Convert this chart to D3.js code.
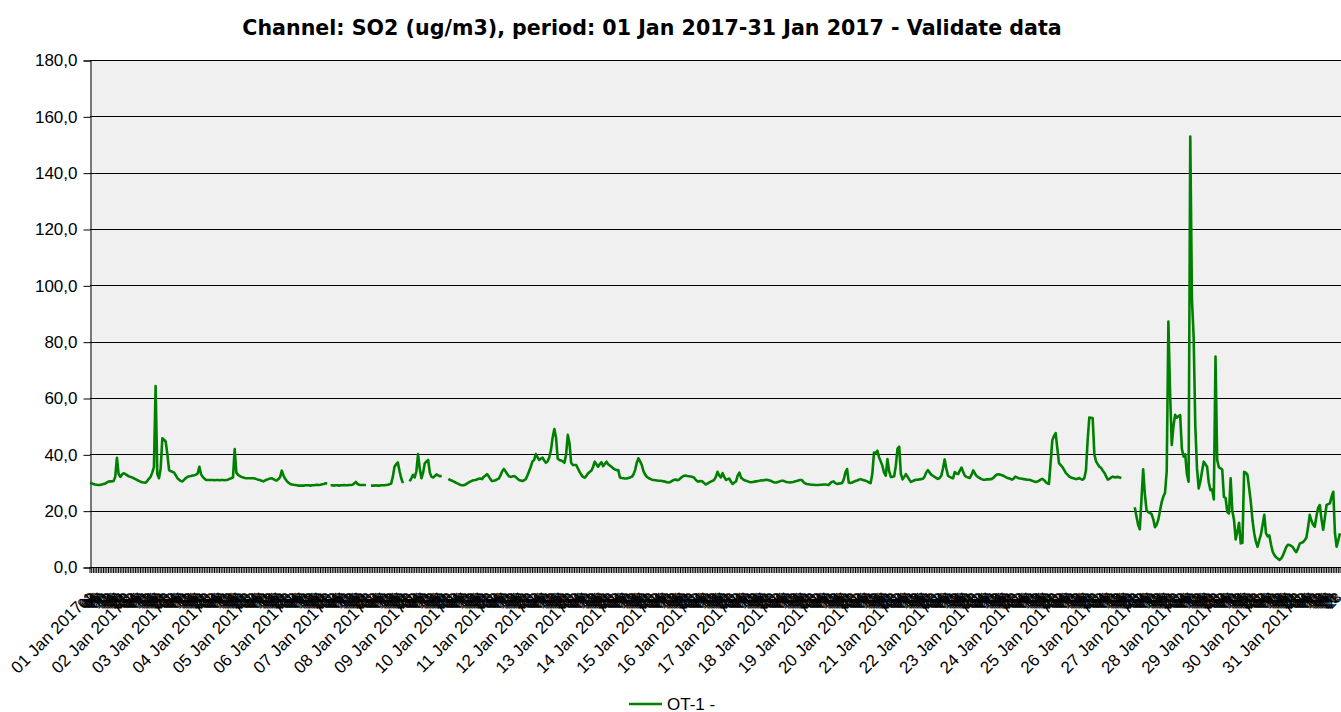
<!DOCTYPE html>
<html>
<head>
<meta charset="utf-8">
<script src="https://cdn.jsdelivr.net/npm/d3@7"></script>
<style>
  body { margin: 0; background: #fff; }
  svg { display: block; }
</style>
</head>
<body>
<svg id="CHART"></svg>
<script>
// hourly SO2 values, one row per day (00..23), null = missing
const so2 = [
  [29.9,29.7,29.5,29.3,29.2,29.1,29.1,29.3,29.5,29.6,30,30.3,30.4,30.4,30.5,32,38.8,33,32,32.8,33.3,33,32.6,32.2],
  [32,31.8,31.5,31.2,30.9,30.6,30.3,30.1,30,29.9,30.5,31.3,32,33.5,35.5,64.2,33,31.5,35,45.7,45.2,44.5,40,34.4],
  [34,33.8,33.5,32.5,31.5,31,30.5,30.4,31,31.6,32,32.2,32.3,32.5,32.6,32.8,33.2,35.6,33,32,31.4,30.9,30.9,30.9],
  [30.9,30.9,30.8,30.9,30.9,30.8,30.9,30.9,30.8,30.9,31,31.3,31.5,31.8,41.9,33.5,32.7,32.3,32,31.8,31.6,31.5,31.5,31.5],
  [31.5,31.5,31.4,31.2,31,30.9,30.6,30.4,30.7,31,31.2,31.4,31.5,31.2,30.9,30.7,31.2,31.9,34.2,32.5,31.3,30.5,29.9,29.5],
  [29.3,29.2,29.1,29,28.9,28.9,28.9,28.9,29,29,29,28.9,29,29,29.1,29.2,29.1,29.2,29.4,29.5,29.7,29.7,null,29],
  [29,28.9,29,29,28.9,29,29,29.1,29,29,29.1,29.1,29.2,29.6,30.2,29.5,29.2,29.1,29.1,29.1,29.1,null,null,28.9],
  [28.9,28.9,29,28.9,28.9,29,29,29,29.1,29.2,29.4,29.6,32,35.6,36.5,37.1,34,31.5,29.8,null,null,null,30.4,31.5],
  [32.7,31.8,34,40.1,35,31.5,33.5,36.8,37.5,38,33.5,32,31.8,32.3,32.9,32.5,32.2,32.4,null,null,null,31.3,30.9,30.7],
  [30.4,30.1,29.8,29.5,29.2,29,29,29.2,29.6,30,30.3,30.6,30.8,30.9,31.1,31.3,31.4,31.2,32,32.4,33,32.2,31.2,30.5],
  [30.6,30.8,31.1,31.4,32.5,34,34.8,34,33,32.2,32,32.1,32.3,32,31.4,30.9,30.7,30.5,30.8,31.2,32.5,34,35.6,37.5],
  [38,40.1,39,38,38.5,38.8,37.8,37,37.5,39,41.5,46,49,46,38.5,38,37.8,37.5,37,40,46.9,44,37,36.2],
  [36.2,36.2,35,33.8,32.8,32,31.7,32.3,33.2,33.8,34.2,35.5,37.4,36.5,35.6,36.5,37.2,35.8,36.6,37.4,36.5,36,35.6,35],
  [34.6,34.4,34.4,31.8,31.6,31.5,31.4,31.4,31.6,31.8,32,32.8,34.4,37,38.6,37.5,36.2,34,32.8,32,31.6,31.3,31,30.9],
  [30.8,30.7,30.6,30.6,30.5,30.4,30.3,30.1,30,30.2,30.6,30.9,31.1,30.8,31,31.5,32,32.4,32.5,32.3,32.2,32.1,32,31.8],
  [31,30.4,30.4,30.5,30.4,29.8,29.3,29.6,30,30.3,30.6,30.9,32,33.8,32.5,31.8,33.3,32,30.9,31.2,31.4,30.2,29.5,30],
  [30.4,32.5,33.5,31.7,31.2,30.8,30.6,30.4,30.2,30.1,30.2,30.3,30.4,30.5,30.6,30.8,30.7,30.9,31,30.9,30.7,30.5,30.2,30],
  [30,30.2,30.4,30.6,30.6,30.4,30.2,30.1,30,30.1,30.2,30.4,30.5,30.7,30.9,30.9,30.2,29.7,29.5,29.4,29.3,29.2,29.2,29.1],
  [29.1,29.1,29.2,29.2,29.3,29.3,29.2,29.1,29.8,30.2,30.4,29.8,29.5,29.6,29.7,29.8,31,33.5,34.8,30,29.8,30,30.3,30.5],
  [30.7,31,31.2,31,30.8,30.6,30.4,30,29.8,33,40.6,40.5,41.3,39,37.5,35.9,33.5,32.4,38.3,34,32,32,32.2,36],
  [42,42.7,33,31.1,32,33,32,31,30.2,30.5,30.8,31,31,31.1,31.2,31.3,32,33.5,34.4,33.6,32.8,32.4,32,31.6],
  [31.3,31.6,32.4,35,38.2,35,32.4,32,31.7,31.5,33.7,33.2,33,34.2,35.3,33.8,32.4,32,31.8,31.6,32.8,34.3,33.2,32.3],
  [31.9,31.5,31.2,31,31,31.1,31.1,31.2,31.2,31.7,32.3,32.8,32.9,32.8,32.6,32.4,32,31.7,31.5,31.3,31,31.4,32.1,31.8],
  [31.5,31.4,31.3,31.2,31.1,31,31,30.9,30.6,30.4,30.2,30.3,30.6,31,31.3,30.9,30.2,29.7,29.5,37,45,46.5,47.5,42],
  [36.8,36.2,35.5,34.5,33.4,32.8,32.2,31.8,31.6,31.4,31.2,31.3,31.6,31.2,31,31.5,34.3,45,53.1,53,52.8,40,37.5,36.5],
  [35.6,35.2,34.2,33.4,32.2,31,31.3,31.8,32.1,31.8,31.9,32,31.8,31.6,null,null,null,null,null,null,null,21.2,18,15],
  [13.4,24,34.7,26,20.2,19.5,19.2,18.8,17,14.1,15,16.8,20,23,25,26.4,34,87.1,62,43.3,50,54,53,53.5],
  [53.9,42,39.2,40,33,30.3,152.8,95,81.8,50,35,27.9,30.4,34,37.4,36.5,35.6,30,27.3,27.5,24,74.7,38,35.4],
  [35,34.6,24.9,24.5,19.5,19,31.5,20,16.7,9.8,12.5,15.7,8.4,8.5,33.8,33.5,32.7,28,23,16.5,12,9,7.2,9.5],
  [11.5,15,18.5,12,10.9,11.2,8,5.4,4.2,3.5,3,2.5,3,4,5.5,7,7.9,7.8,7.5,7,6,5.3,6.5,8.2],
  [8.6,8.8,9.5,10.4,14,18.5,16.5,15,14.3,18,21,22,17,13.2,17.5,22,22.3,22.6,25,26.7,12,7.2,9.5,12]
];

// label shown at midnight of each day
const dayLabels = [
  "01 Jan 2017","02 Jan 2017","03 Jan 2017","04 Jan 2017","05 Jan 2017","06 Jan 2017",
  "07 Jan 2017","08 Jan 2017","09 Jan 2017","10 Jan 2017","11 Jan 2017","12 Jan 2017",
  "13 Jan 2017","14 Jan 2017","15 Jan 2017","16 Jan 2017","17 Jan 2017","18 Jan 2017",
  "19 Jan 2017","20 Jan 2017","21 Jan 2017","22 Jan 2017","23 Jan 2017","24 Jan 2017",
  "25 Jan 2017","26 Jan 2017","27 Jan 2017","28 Jan 2017","29 Jan 2017","30 Jan 2017",
  "31 Jan 2017"
];
const hourLabels = ["","01","02","03","04","05","06","07","08","09","10","11",
  "12","13","14","15","16","17","18","19","20","21","22","23"];
const yTicks = [0, 20, 40, 60, 80, 100, 120, 140, 160, 180];

const title = "Channel: SO2 (ug/m3), period: 01 Jan 2017-31 Jan 2017 - Validate data";
const seriesName = "OT-1 -";

const W = 1341, H = 712;
const plot = { left: 90, right: 1341, top: 60, bottom: 567 };
const lineColor = "#008000";

const points = [];
so2.forEach((row, d) => row.forEach((v, h) => {
  points.push({ i: d * 24 + h, v: v, day: h === 0, label: h === 0 ? dayLabels[d] : hourLabels[h] });
}));

const svg = d3.select("#CHART").attr("width", W).attr("height", H)
  .style("font-family", "'Liberation Sans', Arial, sans-serif");

const x = d3.scaleLinear().domain([0, points.length - 1]).range([plot.left, 1340]);
const y = d3.scaleLinear().domain([0, 180]).range([plot.bottom, plot.top]);

// plot background
svg.append("rect")
  .attr("x", plot.left).attr("y", plot.top)
  .attr("width", plot.right - plot.left + 2).attr("height", plot.bottom - plot.top)
  .attr("fill", "#f0f0f0");

// horizontal grid lines
svg.append("g")
  .selectAll("line")
  .data(yTicks)
  .join("line")
  .attr("x1", plot.left).attr("x2", plot.right + 2)
  .attr("y1", (d) => Math.round(y(d)) + 0.5).attr("y2", (d) => Math.round(y(d)) + 0.5)
  .attr("stroke", "#000").attr("stroke-width", 1);

// y axis
const yAxis = d3.axisLeft(y)
  .tickValues(yTicks)
  .tickSize(7)
  .tickPadding(6)
  .tickFormat((d) => d3.format(".1f")(d).replace(".", ","));
svg.append("g")
  .attr("transform", `translate(${plot.left + 0.5},0.5)`)
  .call(yAxis)
  .call((g) => g.select(".domain").attr("stroke", "#000"))
  .call((g) => g.selectAll("text").style("font-size", "17px").attr("fill", "#000")
    .style("font-family", "'Liberation Sans', Arial, sans-serif"));

// x ticks, one per hour
svg.append("g")
  .selectAll("line")
  .data(points)
  .join("line")
  .attr("x1", (d) => x(d.i)).attr("x2", (d) => x(d.i))
  .attr("y1", plot.bottom).attr("y2", plot.bottom + 6)
  .attr("stroke", "#000").attr("stroke-width", 1);

// x labels, rotated, drawn in order so later ones cover earlier ones
// (day labels sit a bit further down the diagonal than the hour labels)
svg.append("g")
  .selectAll("text")
  .data(points)
  .join("text")
  .attr("transform", (d) => d.day
    ? `translate(${x(d.i) - 10},${plot.bottom + 37}) rotate(-45)`
    : `translate(${x(d.i) - 1},${plot.bottom + 28}) rotate(-45)`)
  .attr("text-anchor", "end")
  .attr("dy", "0.35em")
  .style("font-size", (d) => (d.day ? "17px" : "14px"))
  .attr("fill", "#000")
  .text((d) => d.label);

// bottom axis line
svg.append("line")
  .attr("x1", plot.left).attr("x2", plot.right + 2)
  .attr("y1", plot.bottom + 0.5).attr("y2", plot.bottom + 0.5)
  .attr("stroke", "#000");

// data line with gaps
const line = d3.line()
  .defined((d) => d.v != null)
  .x((d) => x(d.i))
  .y((d) => y(d.v));
svg.append("path")
  .datum(points)
  .attr("fill", "none")
  .attr("stroke", lineColor)
  .attr("stroke-width", 2.6)
  .attr("stroke-linejoin", "round")
  .attr("d", line);

// title
svg.append("text")
  .attr("x", 652).attr("y", 35)
  .attr("text-anchor", "middle")
  .style("font-family", "'DejaVu Sans', Verdana, sans-serif")
  .style("font-weight", "bold")
  .style("font-size", "20.6px")
  .text(title);

// legend
const legend = svg.append("g").attr("transform", "translate(629,704)");
legend.append("line")
  .attr("x1", 0).attr("x2", 33).attr("y1", 0).attr("y2", 0)
  .attr("stroke", lineColor).attr("stroke-width", 2.5);
legend.append("text")
  .attr("x", 38).attr("y", 6)
  .style("font-size", "17px")
  .text(seriesName);
</script>
</body>
</html>
